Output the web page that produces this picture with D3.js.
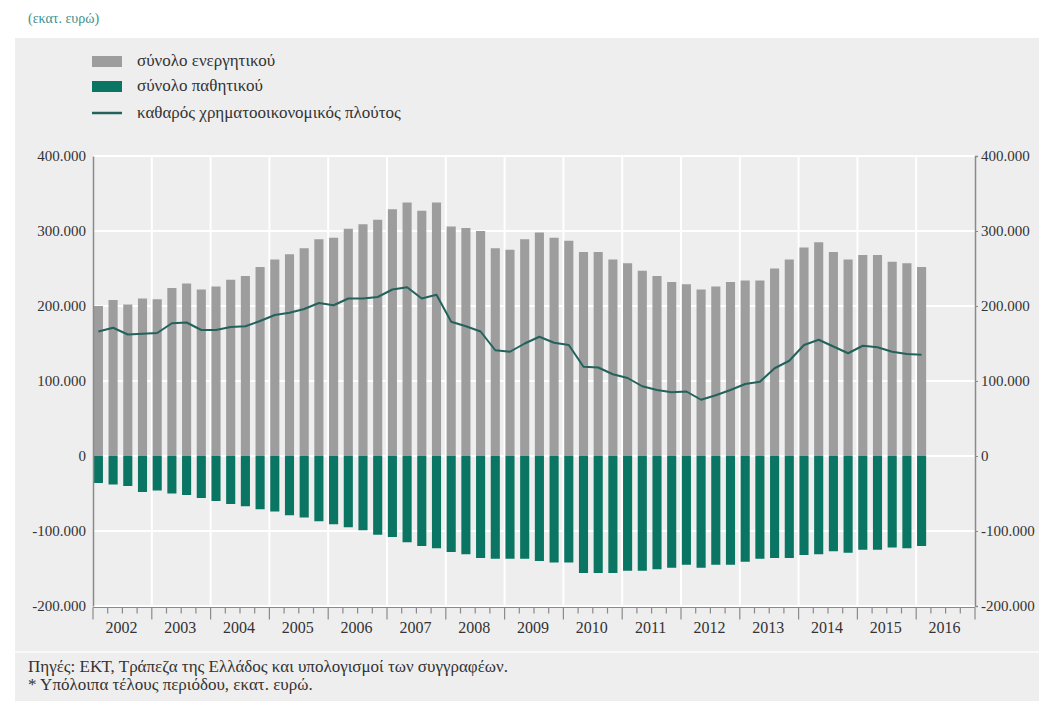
<!DOCTYPE html>
<html>
<head>
<meta charset="utf-8">
<script src="https://cdn.jsdelivr.net/npm/d3@7"></script>
<style>
  html, body { margin: 0; padding: 0; background: #ffffff; }
  svg { display: block; }
</style>
</head>
<body>
<svg id="chart" width="1039" height="701"></svg>
<script>
// Household balance sheet, quarterly, 2002Q1–2016Q1 (million euro)
const years = [2002, 2003, 2004, 2005, 2006, 2007, 2008, 2009, 2010, 2011, 2012, 2013, 2014, 2015, 2016];
const quarterCount = 60;            // 2002Q1 .. 2016Q4 on the time axis
const yTicks = [-200000, -100000, 0, 100000, 200000, 300000, 400000];

// total assets (thousands of million euro)
const assets = [200, 208, 202, 210, 209, 224, 230, 222, 226, 235, 240, 252, 262, 269, 277, 289, 291, 303, 309, 315,
                329, 338, 327, 338, 306, 304, 300, 277, 275, 289, 298, 291, 287, 272, 272, 262, 257, 247, 240, 232,
                229, 222, 226, 232, 234, 234, 250, 262, 278, 285, 272, 262, 268, 268, 259, 257, 252];
// total liabilities
const liabilities = [-36, -38, -40, -48, -46, -50, -52, -56, -60, -64, -67, -71, -74, -79, -82, -87, -91, -95, -99, -105,
                     -108, -115, -120, -123, -128, -131, -136, -137, -137, -137, -140, -142, -142, -156, -156, -156, -153, -153, -151, -149,
                     -145, -149, -145, -145, -141, -137, -136, -136, -132, -131, -127, -129, -125, -125, -122, -123, -120];
// net financial wealth
const netWealth = [166, 171, 162, 163, 164, 177, 178, 168, 168, 172, 173, 180, 188, 191, 196, 204, 201, 210, 210, 212,
                   222, 225, 210, 215, 179, 173, 166, 141, 139, 150, 159, 151, 148, 119, 118, 109, 104, 93, 88, 85,
                   86, 75, 81, 88, 96, 99, 117, 127, 148, 155, 146, 137, 147, 145, 139, 136, 135];

const legendLabels = ["σύνολο ενεργητικού", "σύνολο παθητικού", "καθαρός χρηματοοικονομικός πλούτος"];
const unitLabel = "(εκατ. ευρώ)";
const notes = ["Πηγές: ΕΚΤ, Τράπεζα της Ελλάδος και υπολογισμοί των συγγραφέων.",
               "* Υπόλοιπα τέλους περιόδου, εκατ. ευρώ."];

const fontStack = "'Liberation Serif', 'Times New Roman', 'DejaVu Serif', serif";
const colAssets = "#9d9d9d";
const colLiab = "#0b7563";
const colLine = "#22625b";
const colText = "#333333";
const colAxis = "#8a8a8a";

const svg = d3.select("#chart").attr("font-family", fontStack);

// panel background
svg.append("rect").attr("x", 15).attr("y", 38).attr("width", 1039 - 15).attr("height", 701 - 38).attr("fill", "#eeeeee");
svg.append("line").attr("x1", 15).attr("x2", 1039).attr("y1", 652).attr("y2", 652)
  .attr("stroke", "#f8f8f8").attr("stroke-width", 2);

svg.append("text").attr("x", 28).attr("y", 23).attr("fill", "#3f8f8c").attr("font-size", 14).text(unitLabel);

const plotL = 93, plotR = 975, plotT = 156, plotB = 606;

const quarters = d3.range(quarterCount);
const xBand = d3.scaleBand().domain(quarters).range([plotL, plotR])
  .paddingInner(0.38).paddingOuter(0.19).align(0.15);
const xPos = d3.scaleLinear().domain([0, quarterCount]).range([plotL, plotR]);
const y = d3.scaleLinear().domain([-200000, 400000]).range([plotB, plotT]);

const locale = d3.formatLocale({ decimal: ",", thousands: ".", grouping: [3], currency: ["", "€"], minus: "-" });
const fmt = locale.format(",d");

// white gridlines
const grid = svg.append("g").attr("stroke", "#ffffff").attr("stroke-width", 2);
grid.selectAll("line.h").data(yTicks).join("line").attr("class", "h")
  .attr("x1", plotL).attr("x2", plotR).attr("y1", d => y(d)).attr("y2", d => y(d));
grid.selectAll("line.v").data(d3.range(1, years.length)).join("line").attr("class", "v")
  .attr("x1", d => xPos(d * 4)).attr("x2", d => xPos(d * 4)).attr("y1", plotT).attr("y2", plotB);

// bars
const scaleK = 1000;
svg.append("g").selectAll("rect").data(assets).join("rect")
  .attr("x", (d, i) => xBand(i)).attr("width", xBand.bandwidth())
  .attr("y", d => y(d * scaleK)).attr("height", d => y(0) - y(d * scaleK))
  .attr("fill", colAssets);
svg.append("g").selectAll("rect").data(liabilities).join("rect")
  .attr("x", (d, i) => xBand(i)).attr("width", xBand.bandwidth())
  .attr("y", y(0)).attr("height", d => y(d * scaleK) - y(0))
  .attr("fill", colLiab);

// net wealth line
const line = d3.line().x((d, i) => xBand(i) + xBand.bandwidth() / 2).y(d => y(d * scaleK));
svg.append("path").datum(netWealth).attr("d", line)
  .attr("fill", "none").attr("stroke", colLine).attr("stroke-width", 2).attr("stroke-linejoin", "round");

// left and right value axes
const yAxisL = d3.axisLeft(y).tickValues(yTicks).tickFormat(fmt).tickSize(0).tickPadding(7);
const gL = svg.append("g").attr("transform", `translate(${plotL},0)`).call(yAxisL);
const yAxisR = d3.axisRight(y).tickValues(yTicks).tickFormat(fmt).tickSize(3).tickPadding(3);
const gR = svg.append("g").attr("transform", `translate(${plotR},0)`).call(yAxisR);
[gL, gR].forEach(g => {
  g.attr("font-family", fontStack).attr("font-size", 15);
  g.select(".domain").attr("stroke", colAxis).attr("stroke-width", 1.5);
  g.selectAll(".tick line").attr("stroke", colAxis);
  g.selectAll("text").attr("fill", colText);
});

// time axis: quarter ticks, longer ticks at year boundaries
const axisY = plotB + 1.5;
const gx = svg.append("g");
gx.append("line").attr("x1", plotL).attr("x2", plotR).attr("y1", axisY).attr("y2", axisY)
  .attr("stroke", colAxis).attr("stroke-width", 1.2);
gx.selectAll("line.t").data(d3.range(quarterCount + 1)).join("line").attr("class", "t")
  .attr("x1", d => xPos(d)).attr("x2", d => xPos(d))
  .attr("y1", axisY).attr("y2", d => axisY + (d % 4 === 0 ? 12 : 6))
  .attr("stroke", colAxis).attr("stroke-width", 1.2);
gx.selectAll("text").data(years).join("text")
  .attr("x", (d, i) => xPos(i * 4 + 2) - 1).attr("y", 633)
  .attr("text-anchor", "middle").attr("font-size", 16).attr("fill", colText).text(d => d);

// legend
const legend = svg.append("g").attr("transform", "translate(92,0)");
const rows = [61, 86, 113];
legend.append("rect").attr("x", 0).attr("y", rows[0] - 5).attr("width", 30).attr("height", 11).attr("fill", colAssets);
legend.append("rect").attr("x", 0).attr("y", rows[1] - 5).attr("width", 30).attr("height", 11).attr("fill", colLiab);
legend.append("line").attr("x1", 0).attr("x2", 30).attr("y1", rows[2]).attr("y2", rows[2])
  .attr("stroke", colLine).attr("stroke-width", 2.5);
legend.selectAll("text").data(legendLabels).join("text")
  .attr("x", 45).attr("y", (d, i) => rows[i] + 5).attr("font-size", 17).attr("fill", colText).text(d => d);

// source notes
svg.selectAll("text.note").data(notes).join("text").attr("class", "note")
  .attr("x", 28).attr("y", (d, i) => 672 + i * 18).attr("font-size", 17).attr("fill", colText).text(d => d);
</script>
</body>
</html>
